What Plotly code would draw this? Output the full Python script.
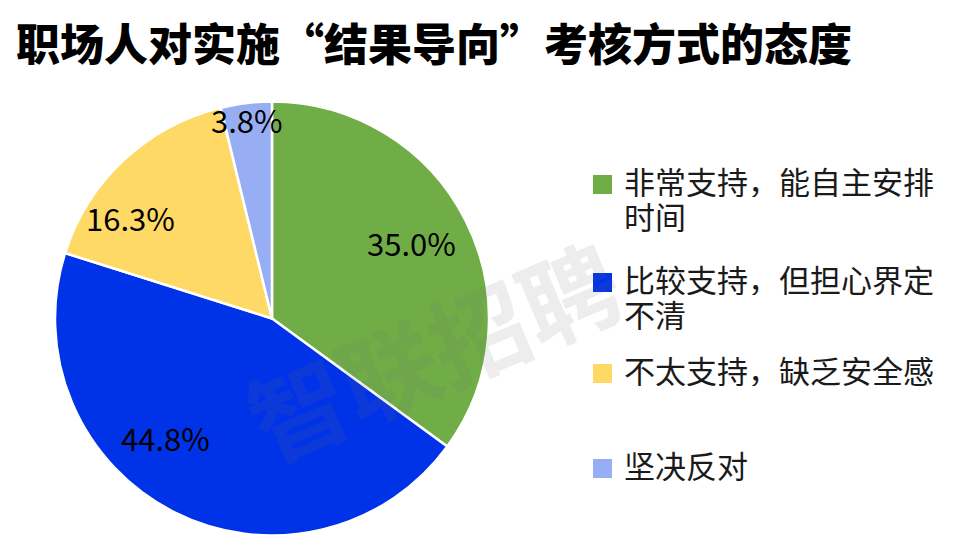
import math
import plotly.graph_objects as go

title = "职场人对实施“结果导向”考核方式的态度"
labels = ["非常支持，能自主安排<br>时间", "比较支持，但担心界定<br>不清", "不太支持，缺乏安全感", "坚决反对"]
values = [35.0, 44.8, 16.3, 3.8]
colors = ["#70AD47", "#0033E8", "#FFD966", "#97AEF5"]
watermark = "智联招聘"

FONT = "Noto Sans CJK SC"
W, H = 958, 551
OFF = 8  # page body margin


def px(x):
    return (x - OFF) / W


def py(y):
    return 1 - (y - OFF) / H


# pie geometry (screen pixels)
PL, PR, PT, PB = 55, 489, 101, 536
CX, CY = (PL + PR) / 2, (PT + PB) / 2
R = min(PR - PL, PB - PT) / 2

fig = go.Figure()
fig.add_trace(go.Pie(
    labels=labels, values=values, sort=False, direction="clockwise", rotation=0,
    marker=dict(colors=colors, line=dict(color="white", width=2.5)),
    textinfo="none",
    domain=dict(x=[px(PL), px(PR)], y=[py(PB), py(PT)]),
    showlegend=False, hoverinfo="label+percent",
))

annotations = []
shapes = []

# data labels placed inside each slice (angle fraction within slice, radius fraction)
label_place = [(0.49, 0.73), (0.59, 0.74), (0.30, 0.80), (0.47, 0.92)]
total = sum(values)
start = 0.0
for v, (af, rf) in zip(values, label_place):
    span = v / total * 360
    ang = math.radians(start + af * span)
    start += span
    x = CX + rf * R * math.sin(ang)
    y = CY - rf * R * math.cos(ang)
    annotations.append(dict(
        text=f"{v:.1f}%", x=px(x), y=py(y - 1), xref="paper", yref="paper",
        xanchor="center", yanchor="middle", showarrow=False,
        font=dict(family=FONT, size=31, color="black")))

# legend built from labels/colors
leg_y = [184, 282, 373, 468]
LINE = 35
for lab, col, yy in zip(labels, colors, leg_y):
    for i, line in enumerate(lab.split("<br>")):
        annotations.append(dict(
            text=line, x=px(622), y=py(yy + i * LINE - 4), xref="paper", yref="paper",
            xanchor="left", yanchor="middle", align="left", showarrow=False,
            height=34, valign="middle",
            font=dict(family=FONT, size=31, color="#1a1a1a")))
    shapes.append(dict(type="rect", xref="paper", yref="paper",
                       x0=px(593), x1=px(612), y0=py(yy + 10), y1=py(yy - 9),
                       fillcolor=col, line=dict(width=0)))

annotations.append(dict(
    text=watermark, x=px(432), y=py(348), xref="paper", yref="paper",
    showarrow=False, textangle=-23,
    font=dict(family=FONT, size=98, color="rgba(110,110,110,0.12)", weight=700)))

annotations.append(dict(
    text=title, x=px(14), y=1, xref="paper", yref="paper",
    xanchor="left", yanchor="top", showarrow=False,
    font=dict(family=FONT, size=44, color="black", weight=900)))

fig.update_layout(
    width=W, height=H, margin=dict(l=0, r=0, t=0, b=0),
    paper_bgcolor="white", plot_bgcolor="white",
    annotations=annotations, shapes=shapes,
)
fig.write_html("out.html")
